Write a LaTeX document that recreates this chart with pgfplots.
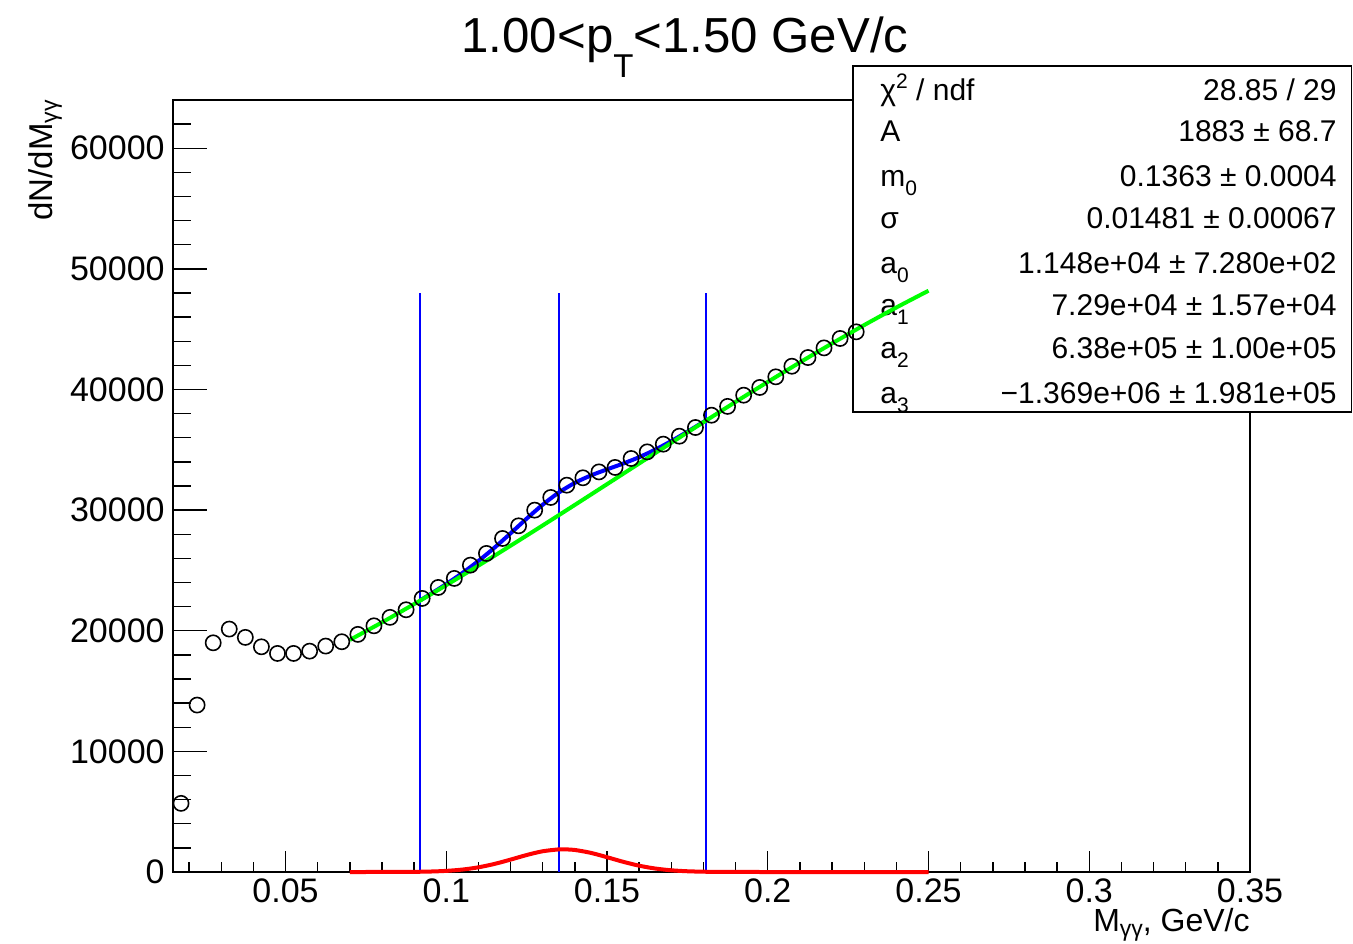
\documentclass[border=0pt]{standalone}
\usepackage{fontspec}
\setmainfont{Liberation Sans}
\usepackage{pgfplots}
\pgfplotsset{compat=1.18}
\newcommand{\statfont}{\fontsize{15}{18}\selectfont}
\newcommand{\ssub}[1]{\raisebox{-4.5pt}{\fontsize{10.5}{12}\selectfont #1}}
\newcommand{\lsub}[1]{\raisebox{-2.5pt}{\fontsize{11.5}{13}\selectfont #1}}
\definecolor{rgreen}{RGB}{0,255,0}
\definecolor{rblue}{RGB}{0,0,255}
\definecolor{rred}{RGB}{255,0,0}
\begin{document}
\begin{tikzpicture}
\useasboundingbox (0,0) rectangle (676.5pt,471.5pt);
\begin{axis}[
  at={(86.5pt,35.5pt)}, anchor=south west,
  scale only axis, width=538.5pt, height=386pt,
  xmin=0.015, xmax=0.35, ymin=0, ymax=64000,
  clip=false,
  scaled x ticks=false, scaled y ticks=false,
  axis line style={line width=1pt},
  xtick={0.05,0.1,0.15,0.2,0.25,0.3,0.35},
  xticklabels={0.05,0.1,0.15,0.2,0.25,0.3,0.35},
  minor xtick={0.02,0.03,0.04,0.06,0.07,0.08,0.09,0.11,0.12,0.13,0.14,0.16,0.17,0.18,0.19,0.21,0.22,0.23,0.24,0.26,0.27,0.28,0.29,0.31,0.32,0.33,0.34},
  ytick={0,10000,20000,30000,40000,50000,60000},
  yticklabels={0,10000,20000,30000,40000,50000,60000},
  minor ytick={2000,4000,6000,8000,12000,14000,16000,18000,22000,24000,26000,28000,32000,34000,36000,38000,42000,44000,46000,48000,52000,54000,56000,58000,62000},
  tick align=inside, tick pos=left,
  major tick length=10.3pt, minor tick length=5pt,
  tick style={line width=0.7pt, black},
  ytick style={/pgfplots/major tick length=17pt, /pgfplots/minor tick length=8.8pt},
  ticklabel style={font=\fontsize{17}{20}\selectfont},
  xticklabel style={inner sep=0pt, yshift=-3pt},
  yticklabel style={inner sep=0pt, xshift=-4pt},
]
% data points
\addplot[only marks, mark=o, mark size=3.8pt, mark options={line width=0.8pt, black}] table {
x y
0.0175 5690
0.0225 13840
0.0275 19000
0.0325 20140
0.0375 19450
0.0425 18670
0.0475 18120
0.0525 18120
0.0575 18310
0.0625 18730
0.0675 19090
0.0725 19700
0.0775 20410
0.0825 21110
0.0875 21740
0.0925 22680
0.0975 23590
0.1025 24340
0.1075 25440
0.1125 26410
0.1175 27650
0.1225 28700
0.1275 30000
0.1325 31050
0.1375 32070
0.1425 32680
0.1475 33170
0.1525 33540
0.1575 34280
0.1625 34830
0.1675 35470
0.1725 36130
0.1775 36850
0.1825 37870
0.1875 38600
0.1925 39530
0.1975 40170
0.2025 41050
0.2075 41930
0.2125 42650
0.2175 43450
0.2225 44230
0.2275 44780
};
% vertical lines
\addplot[rblue, line width=0.8pt] coordinates {(0.0919,0) (0.0919,48000)};
\addplot[rblue, line width=0.8pt] coordinates {(0.135,0) (0.135,48000)};
\addplot[rblue, line width=0.8pt] coordinates {(0.1807,0) (0.1807,48000)};
% total fit
\addplot[rblue, line width=2pt, smooth] coordinates {
(0.0919,22526) (0.095,23028) (0.1,23874) (0.105,24786) (0.11,25786) (0.115,26888)
(0.12,28078) (0.125,29294) (0.13,30452) (0.135,31457) (0.14,32259) (0.145,32876)
(0.15,33378) (0.155,33859) (0.16,34392) (0.165,35016) (0.17,35726) (0.175,36501)
(0.18,37313) (0.1807,37429)};
% gaussian
\addplot[rred, line width=2pt, smooth] coordinates {
(0.07,0.1) (0.08,1.4) (0.085,4.7) (0.09,14.2) (0.095,38.6) (0.1,93.4) (0.105,201.8)
(0.11,389.1) (0.115,669.4) (0.12,1027.6) (0.125,1407.4) (0.13,1720.2) (0.135,1875.8)
(0.1363,1883) (0.14,1825.1) (0.145,1584.6) (0.15,1227.6) (0.155,848.5) (0.16,523.3)
(0.165,288.0) (0.17,141.4) (0.175,61.9) (0.18,24.2) (0.185,8.5) (0.19,2.6) (0.2,0.2)
(0.21,0) (0.25,0)};
% stats box
\draw[line width=0.75pt, fill=white] (rel axis cs:0.63138,0.59585) rectangle (rel axis cs:1.0942,1.04404);
\begin{scope}[every node/.style={inner sep=0pt, font=\statfont}]
\node[anchor=base west] at (rel axis cs:0.65645,1.0000) {χ\raisebox{6pt}{\fontsize{10.5}{12}\selectfont 2} / ndf};
\node[anchor=base east] at (rel axis cs:1.08078,1.0000) {28.85 / 29};
\node[anchor=base west] at (rel axis cs:0.65645,0.94560) {A};
\node[anchor=base east] at (rel axis cs:1.08078,0.94560) {1883 ± 68.7};
\node[anchor=base west] at (rel axis cs:0.65645,0.88731) {m\ssub{0}};
\node[anchor=base east] at (rel axis cs:1.08078,0.88731) {0.1363 ± 0.0004};
\node[anchor=base west] at (rel axis cs:0.65645,0.83420) {σ};
\node[anchor=base east] at (rel axis cs:1.08078,0.83420) {0.01481 ± 0.00067};
\node[anchor=base west] at (rel axis cs:0.65645,0.77591) {a\ssub{0}};
\node[anchor=base east] at (rel axis cs:1.08078,0.77591) {1.148e+04 ± 7.280e+02};
\node[anchor=base west] at (rel axis cs:0.65645,0.72150) {a\ssub{1}};
\node[anchor=base east] at (rel axis cs:1.08078,0.72150) {7.29e+04 ± 1.57e+04};
\node[anchor=base west] at (rel axis cs:0.65645,0.66580) {a\ssub{2}};
\node[anchor=base east] at (rel axis cs:1.08078,0.66580) {6.38e+05 ± 1.00e+05};
\node[anchor=base west] at (rel axis cs:0.65645,0.60751) {a\ssub{3}};
\node[anchor=base east] at (rel axis cs:1.08078,0.60751) {−1.369e+06 ± 1.981e+05};
\end{scope}
% background pol3
\addplot[rgreen, line width=2pt, smooth] coordinates {
(0.07,19240) (0.08,20694) (0.09,22211) (0.10,23781) (0.11,25397) (0.12,27050)
(0.13,28732) (0.14,30434) (0.15,32150) (0.16,33869) (0.17,35585) (0.18,37289)
(0.19,38973) (0.20,40628) (0.21,42247) (0.22,43820) (0.23,45341) (0.24,46800)
(0.25,48189)};
\end{axis}
% title
\node[anchor=base, inner sep=0pt, font=\fontsize{24.6}{29}\selectfont] at (342.5pt,445pt)
  {1.00<p\raisebox{-12.5pt}{\fontsize{16.5}{19}\selectfont T}<1.50 GeV/c};
% axis titles
\node[anchor=base east, inner sep=0pt, font=\fontsize{16}{19}\selectfont] at (625pt,6pt)
  {M\lsub{γγ}, GeV/c};
\node[anchor=base east, rotate=90, inner sep=0pt, font=\fontsize{16.5}{20}\selectfont] at (26pt,421.5pt)
  {dN/dM\lsub{γγ}};
\end{tikzpicture}
\end{document}
